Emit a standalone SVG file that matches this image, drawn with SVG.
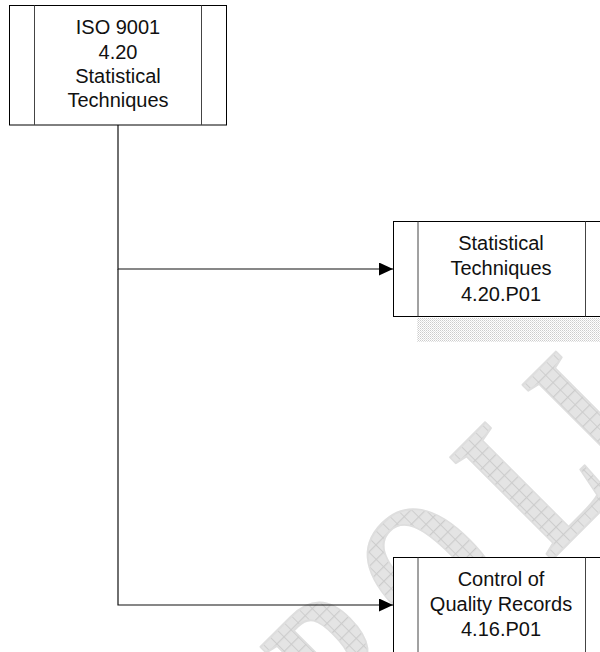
<svg xmlns="http://www.w3.org/2000/svg" width="600" height="652" viewBox="0 0 600 652">
  <defs>
    <pattern id="hatch" patternUnits="userSpaceOnUse" width="10" height="7">
      <rect width="10" height="7" fill="#e4e4e4"/>
      <path d="M0 0.4H10M0.5 0V7" stroke="#cccccc" stroke-width="0.9"/>
    </pattern>
    <pattern id="dots" patternUnits="userSpaceOnUse" width="2" height="2">
      <rect width="2" height="2" fill="#ffffff"/>
      <rect x="0" y="0" width="1" height="1" fill="#cccccc"/>
      <rect x="1" y="1" width="1" height="1" fill="#e0e0e0"/>
    </pattern>
    <marker id="arrow" markerWidth="14" markerHeight="13" refX="14" refY="6.5" orient="auto" markerUnits="userSpaceOnUse">
      <path d="M0 0L14 6.5L0 13Z" fill="#000"/>
    </marker>
  </defs>
  <style>
    .box { fill: #ffffff; stroke: #000000; stroke-width: 1; }
    .inner { stroke: #444444; stroke-width: 1; }
    .lbl { font-family: "Liberation Sans", Arial, sans-serif; font-size: 20px; fill: #111111; text-anchor: middle; }
    .conn { fill: none; stroke: #111111; stroke-width: 1.2; }
  </style>

  <g id="watermark">
    <text transform="translate(555.9,555.9) rotate(-45) scale(1,1.49)" x="-276 -157.6 -7.9 92" y="0" font-family="Liberation Serif, Times New Roman, serif" font-weight="bold" font-size="148" fill="url(#hatch)" stroke="#dedede" stroke-width="1.5" stroke-linejoin="round">POLI</text>
  </g>

  <rect id="shadow" x="417" y="318" width="183" height="24" fill="url(#dots)"/>

  <g id="connectors">
    <path class="conn" d="M118 125V269H393" marker-end="url(#arrow)"/>
    <path class="conn" d="M118 269V605H393" marker-end="url(#arrow)"/>
  </g>

  <g id="node-iso">
    <rect class="box" x="9.5" y="5.5" width="217" height="119.5"/>
    <line class="inner" x1="34.5" y1="5.5" x2="34.5" y2="125"/>
    <line class="inner" x1="201.5" y1="5.5" x2="201.5" y2="125"/>
    <text class="lbl" x="118" y="34">ISO 9001</text>
    <text class="lbl" x="118" y="58.5">4.20</text>
    <text class="lbl" x="118" y="83">Statistical</text>
    <text class="lbl" x="118" y="107">Techniques</text>
  </g>

  <g id="node-p420">
    <rect class="box" x="393.5" y="221.5" width="217" height="95"/>
    <line class="inner" x1="418" y1="221.5" x2="418" y2="316.5"/>
    <line class="inner" x1="585.5" y1="221.5" x2="585.5" y2="316.5"/>
    <text class="lbl" x="501" y="250">Statistical</text>
    <text class="lbl" x="501" y="275">Techniques</text>
    <text class="lbl" x="501" y="301">4.20.P01</text>
  </g>

  <g id="node-p416">
    <rect class="box" x="393.5" y="557.5" width="217" height="95"/>
    <line class="inner" x1="418" y1="557.5" x2="418" y2="652.5"/>
    <line class="inner" x1="585.5" y1="557.5" x2="585.5" y2="652.5"/>
    <text class="lbl" x="501" y="586">Control of</text>
    <text class="lbl" x="501" y="611">Quality Records</text>
    <text class="lbl" x="501" y="636">4.16.P01</text>
  </g>
</svg>
